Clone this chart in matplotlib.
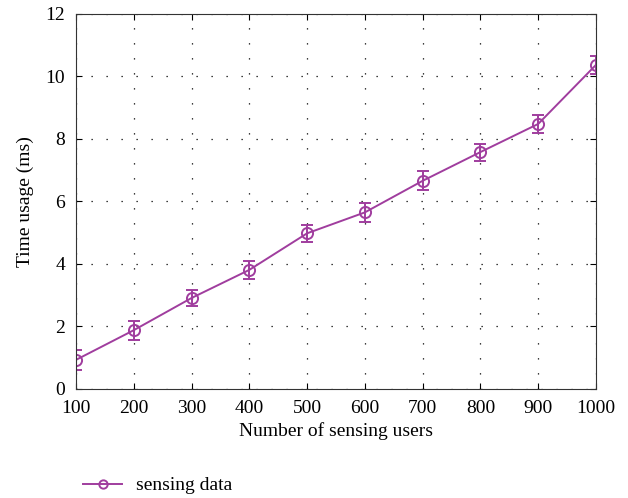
import matplotlib
matplotlib.use('Agg')
import matplotlib.pyplot as plt
from matplotlib.lines import Line2D

plt.rcParams['font.family'] = ['Liberation Serif', 'DejaVu Serif']

# Data
users = [100, 200, 300, 400, 500, 600, 700, 800, 900, 1000]
time_ms = [0.93, 1.88, 2.91, 3.81, 4.98, 5.65, 6.66, 7.58, 8.48, 10.37]
err = [0.33, 0.3, 0.27, 0.3, 0.27, 0.3, 0.3, 0.27, 0.3, 0.3]

color = '#a03d9e'

fig = plt.figure(figsize=(6.28, 4.98), dpi=100)
ax = fig.add_axes([0.121, 0.219, 0.828, 0.753])

ax.errorbar(users, time_ms, yerr=err, color=color, marker='o', markersize=8,
            markerfacecolor='none', markeredgewidth=1.4, linewidth=1.4,
            capsize=4, elinewidth=1.4, capthick=1.4)

ax.set_xlim(100, 1000)
ax.set_ylim(0, 12)
ax.set_xticks(users)
ax.set_yticks(range(0, 13, 2))
ax.tick_params(direction='in', top=True, right=True, labelsize=14, length=4)
ax.tick_params(axis='x', pad=8)
ax.tick_params(axis='y', pad=8)
ax.grid(True, linestyle=(0, (1, 11)), color='black', linewidth=0.9)
for s in ax.spines.values():
    s.set_color('#333333')

ax.set_xlabel('Number of sensing users', fontsize=14, labelpad=4)
ax.set_ylabel('Time usage (ms)', fontsize=14, labelpad=8)

handle = Line2D([], [], color=color, marker='o', markersize=6,
                markerfacecolor='none', markeredgewidth=1.4, linewidth=1.4)
fig.legend([handle], ['sensing data'], loc='lower left',
           bbox_to_anchor=(0.105, -0.028), frameon=False,
           fontsize=14, handlelength=2.0, handletextpad=0.7)

fig.savefig('out.png', dpi=100)
